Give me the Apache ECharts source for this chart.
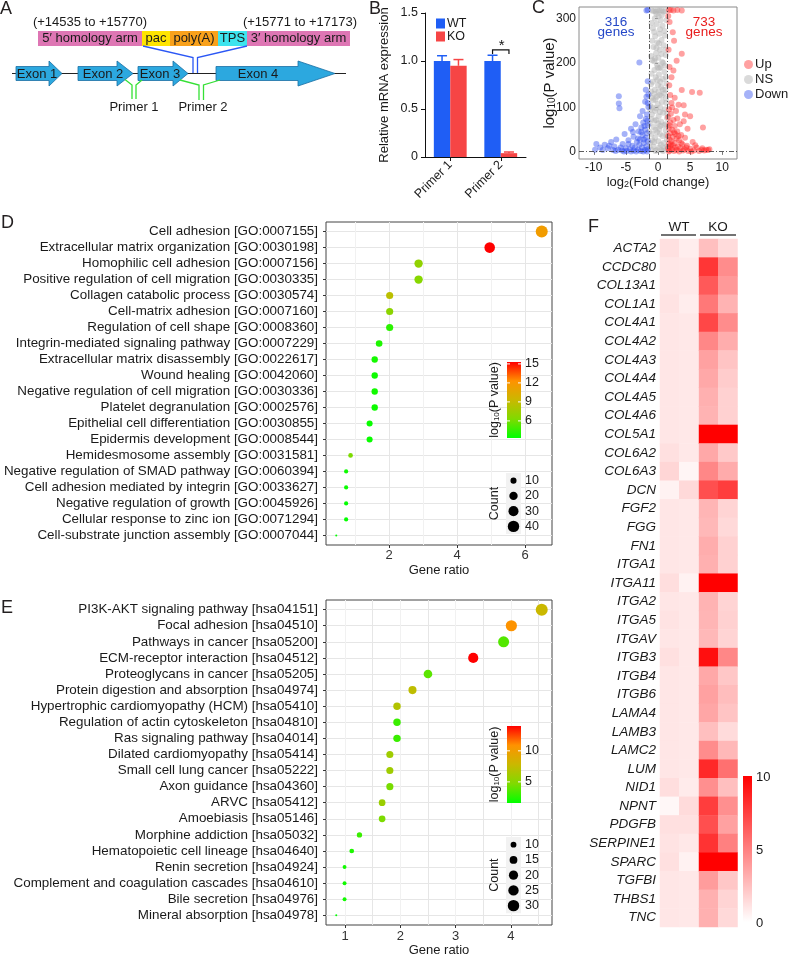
<!DOCTYPE html>
<html>
<head>
<meta charset="utf-8">
<title>Figure</title>
<script src="https://cdn.jsdelivr.net/npm/echarts@6.0.0/dist/echarts.min.js"></script>
<style>
html,body{margin:0;padding:0;background:#ffffff;}
#chart{width:789px;height:956px;}
</style>
</head>
<body>
<div id="chart"></div>
<script>
// ================= DATA =================
// Panel B
const barCategories = ['Primer 1', 'Primer 2'];
const wtExpression = [1.0, 1.0];
const koExpression = [0.95, 0.04];
const wtError = [0.055, 0.06];
const koError = [0.065, 0.012];
const sigBracketLevel = 1.115;
const barYTicks = [0, 0.5, 1.0, 1.5];

// Panel C
const volcanoXTicks = [-10, -5, 0, 5, 10];
const volcanoYTicks = [0, 100, 200, 300];
const downGeneCount = 316;
const upGeneCount = 733;
const fcCutoffs = [-1.4, 1.5];
const pCutoff = 1.3;
const volcanoNS = [[-0.05,318],[0.25,318],[-0.35,316],[0.55,318],[-0.65,317],[0.85,316],[-0.95,318],[1.15,317],[0.1,305],[-0.5,300],[0.4,296],[-0.2,288],[0.7,284],[-0.8,278],[1.0,272],[0.2,266],[-0.45,260],[0.55,252],[-0.1,246],[0.9,240],[-0.7,236],[0.3,230],[-0.3,222],[1.2,218],[0.05,212],[-0.9,206],[0.65,202],[-0.15,196],[0.4,190],[-0.55,184],[1.0,180],[0.15,174],[-0.35,168],[0.75,164],[-0.8,158],[1.3,154],[0.0,150],[0.5,146],[-0.5,140],[-1.1,136],[0.95,132],[0.25,128],[-0.2,124],[1.25,120],[-0.75,116],[0.6,112],[-0.05,108],[-1.2,104],[0.35,100],[1.1,96],[-0.45,92],[0.8,88],[-0.95,84],[0.1,80],[1.4,76],[-0.3,72],[0.5,68],[-1.3,64],[0.95,60],[-0.65,56],[0.2,52],[1.2,48],[-0.15,44],[-1.0,40],[0.7,36],[-0.45,32],[1.4,28],[0.05,24],[-1.25,20],[0.45,16],[-0.7,12],[1.05,8],[-0.2,4],[0.8,2],[-1.1,6],[1.35,12],[-0.9,26],[1.3,38],[-1.35,46],[1.2,62],[-1.05,74],[1.45,86],[-1.2,94],[1.3,110],[-1.0,122],[1.15,140],[-1.1,152],[1.25,168],[-1.0,176],[1.1,194],[-1.05,216],[1.2,230],[-0.9,250],[1.05,262],[-1.0,290],[1.3,296],[-0.25,310],[0.6,308],[0.3,276],[-0.6,270],[-0.25,234],[0.15,244],[0.55,220],[-0.6,204],[0.2,188],[-0.1,162],[0.35,158],[-0.6,130],[0.55,126],[-0.3,98],[0.3,90],[-0.55,70],[0.35,58],[-0.4,50],[0.05,64],[0.3,40],[-0.6,22],[0.2,10],[-0.4,2],[0.55,4],[0.9,20],[-0.85,100],[0.75,140],[-0.4,118],[0.1,136],[-0.05,190],[0.8,200],[-0.45,210]];
const volcanoUp = [[1.7,319],[2.0,319],[2.4,318],[3.0,319],[3.7,318],[1.6,306],[1.8,292],[2.3,269],[3.7,221],[1.8,191],[2.4,183],[2.1,168],[3.7,139],[5.3,135],[6.5,133],[1.9,128],[2.6,122],[3.2,106],[4.0,105],[2.2,100],[1.7,96],[2.8,92],[2.0,86],[4.2,84],[5.0,80],[7.0,55],[4.0,69],[3.0,75],[1.6,78],[2.4,72],[1.9,66],[3.4,62],[2.6,58],[1.7,54],[4.6,52],[2.2,50],[3.0,46],[1.9,42],[2.7,40],[3.6,38],[1.6,36],[2.3,34],[4.2,32],[2.9,30],[1.8,28],[3.3,26],[2.1,24],[5.4,22],[2.6,20],[1.7,18],[3.8,17],[2.3,15],[4.5,14],[1.9,12],[3.1,12],[2.7,10],[6.0,10],[1.6,8],[3.5,8],[5.0,7],[2.2,6],[4.1,6],[6.8,5],[7.5,5],[8.0,6],[2.9,4],[1.8,3],[3.9,3],[5.6,3],[6.4,2],[7.2,3],[2.5,2],[4.7,2],[3.3,1],[1.7,1],[5.2,1],[7.8,4],[6.9,8],[4.4,10],[3.6,20],[2.0,16],[5.8,15],[3.2,36],[2.5,44],[1.75,60],[2.1,110],[1.75,150],[1.65,230],[2.5,250],[2.9,205]];
const volcanoDown = [[-1.6,319],[-1.8,318],[-2.9,201],[-1.6,159],[-1.9,140],[-1.8,124],[-1.5,129],[-2.0,113],[-1.5,101],[-6.1,125],[-6.1,109],[-6.0,98],[-2.4,92],[-1.7,84],[-2.8,80],[-1.9,74],[-2.3,66],[-3.5,62],[-1.6,60],[-2.6,55],[-4.2,52],[-2.0,50],[-3.0,46],[-1.7,42],[-5.2,40],[-2.4,38],[-3.8,34],[-1.9,32],[-2.8,28],[-6.5,28],[-4.6,26],[-1.6,24],[-3.3,22],[-7.3,22],[-2.2,20],[-5.5,18],[-2.9,16],[-9.6,18],[-8.3,16],[-4.0,14],[-1.8,12],[-6.8,12],[-3.6,10],[-2.5,10],[-9.0,10],[-5.0,8],[-1.6,6],[-7.8,8],[-4.4,6],[-3.1,5],[-6.2,5],[-2.0,4],[-5.6,3],[-8.6,4],[-3.8,3],[-2.7,2],[-4.9,2],[-6.6,2],[-7.0,4],[-1.7,1],[-3.4,1],[-5.3,1],[-4.2,1],[-2.3,1],[-9.8,5],[-7.6,14],[-5.8,10],[-4.6,18],[-3.1,30],[-2.1,58],[-2.6,44],[-1.65,70],[-3.9,45],[-2.2,28],[-1.6,110]];

// Panel D (GO)
const goTerms = [
  'Cell adhesion [GO:0007155]',
  'Extracellular matrix organization [GO:0030198]',
  'Homophilic cell adhesion [GO:0007156]',
  'Positive regulation of cell migration [GO:0030335]',
  'Collagen catabolic process [GO:0030574]',
  'Cell-matrix adhesion [GO:0007160]',
  'Regulation of cell shape [GO:0008360]',
  'Integrin-mediated signaling pathway [GO:0007229]',
  'Extracellular matrix disassembly [GO:0022617]',
  'Wound healing [GO:0042060]',
  'Negative regulation of cell migration [GO:0030336]',
  'Platelet degranulation [GO:0002576]',
  'Epithelial cell differentiation [GO:0030855]',
  'Epidermis development [GO:0008544]',
  'Hemidesmosome assembly [GO:0031581]',
  'Negative regulation of SMAD pathway [GO:0060394]',
  'Cell adhesion mediated by integrin [GO:0033627]',
  'Negative regulation of growth [GO:0045926]',
  'Cellular response to zinc ion [GO:0071294]',
  'Cell-substrate junction assembly [GO:0007044]'
];
const goGeneRatio = [6.49,4.96,2.87,2.87,2.02,2.02,2.02,1.71,1.58,1.58,1.58,1.58,1.43,1.43,0.87,0.74,0.74,0.74,0.74,0.45];
const goLogP = [11.5,15.3,7.0,6.6,8.7,6.8,4.3,4.0,3.8,3.6,3.7,3.6,3.5,3.5,6.2,3.6,3.5,3.4,3.4,3.3];
const goCount = [45,34,20,20,14,14,14,12,11,11,11,11,10,10,6,5,5,5,5,3];
const goRatioTicks = [2, 4, 6];
const goRatioGrid = [1, 2, 3, 4, 5, 6];
const goPTicks = [6, 9, 12, 15];
const goCountKeys = [10, 20, 30, 40];

// Panel E (KEGG)
const keggTerms = [
  'PI3K-AKT signaling pathway [hsa04151]',
  'Focal adhesion [hsa04510]',
  'Pathways in cancer [hsa05200]',
  'ECM-receptor interaction [hsa04512]',
  'Proteoglycans in cancer [hsa05205]',
  'Protein digestion and absorption [hsa04974]',
  'Hypertrophic cardiomyopathy (HCM) [hsa05410]',
  'Regulation of actin cytoskeleton [hsa04810]',
  'Ras signaling pathway [hsa04014]',
  'Dilated cardiomyopathy [hsa05414]',
  'Small cell lung cancer [hsa05222]',
  'Axon guidance [hsa04360]',
  'ARVC [hsa05412]',
  'Amoebiasis [hsa05146]',
  'Morphine addiction [hsa05032]',
  'Hematopoietic cell lineage [hsa04640]',
  'Renin secretion [hsa04924]',
  'Complement and coagulation cascades [hsa04610]',
  'Bile secretion [hsa04976]',
  'Mineral absorption [hsa04978]'
];
const keggGeneRatio = [4.56,4.01,3.87,3.32,2.50,2.22,1.94,1.94,1.94,1.81,1.81,1.81,1.67,1.67,1.26,1.12,0.99,0.99,0.99,0.84];
const keggLogP = [7.8,10.8,3.6,14.0,3.8,7.3,6.8,3.0,3.0,6.0,6.0,4.5,5.8,4.6,3.0,2.3,2.0,2.0,2.0,1.6];
const keggCount = [33,29,28,24,18,16,14,14,14,13,13,13,12,12,9,8,7,7,7,6];
const keggRatioTicks = [1, 2, 3, 4];
const keggRatioGrid = [1, 1.5, 2, 2.5, 3, 3.5, 4, 4.5];
const keggPTicks = [5, 10];
const keggCountKeys = [10, 15, 20, 25, 30];

// Panel F (heatmap)
const heatGenes = ['ACTA2','CCDC80','COL13A1','COL1A1','COL4A1','COL4A2','COL4A3','COL4A4','COL4A5','COL4A6','COL5A1','COL6A2','COL6A3','DCN','FGF2','FGG','FN1','ITGA1','ITGA11','ITGA2','ITGA5','ITGAV','ITGB3','ITGB4','ITGB6','LAMA4','LAMB3','LAMC2','LUM','NID1','NPNT','PDGFB','SERPINE1','SPARC','TGFBI','THBS1','TNC'];
const heatWT1 = [1.2,1.0,1.0,1.1,1.0,1.0,1.0,1.0,1.0,1.0,1.0,1.2,1.6,0.5,1.0,1.0,1.0,1.0,1.3,1.0,1.1,1.0,1.2,1.0,1.0,1.0,1.0,1.0,1.0,1.3,0.3,1.2,1.1,1.2,1.0,1.0,1.0];
const heatWT2 = [0.7,0.9,0.9,0.7,0.9,0.9,0.9,0.9,0.9,0.9,0.9,0.9,0.4,1.5,0.9,0.9,0.9,0.9,0.5,0.9,0.9,0.9,0.9,0.9,0.9,0.9,0.9,0.9,0.9,0.8,1.4,1.2,0.9,0.5,0.9,0.9,0.9];
const heatKO1 = [2.5,7.9,6.5,5.3,7.2,4.7,3.7,3.4,3.1,3.0,10,3.4,4.7,6.9,2.9,2.8,3.2,3.1,10,3.0,2.9,2.8,9.4,3.4,3.7,3.5,2.5,4.5,8.4,4.4,7.6,6.9,8.0,10,3.9,3.1,3.1];
const heatKO2 = [1.4,4.5,4.0,3.0,4.5,3.2,2.3,2.0,1.8,1.8,10,2.1,3.3,7.6,1.7,1.5,1.8,1.8,10,1.7,1.8,1.7,4.7,2.2,2.6,2.3,1.4,2.8,5.6,2.5,4.4,3.7,5.0,10,2.2,1.7,1.5];
const heatTicks = [0, 5, 10];
const heatMax = 10;

// ================= STYLE =================
const FONT = '"Liberation Sans", Arial, Helvetica, sans-serif';
const INK = '#1a1a1a';
const WT_COLOR = '#1f5ef5';
const KO_COLOR = '#f64545';
const pvalPalette = ['#00ff00', '#80da00', '#cab800', '#ff9200', '#ff0000'];
const TERM_FONT = 13.4;

function txt(x, y, text, size, o) {
  o = o || {};
  const st = {text: text, fill: o.color || INK, fontSize: size, fontFamily: FONT,
    fontStyle: o.italic ? 'italic' : 'normal', align: o.align || 'center', verticalAlign: o.valign || 'middle'};
  if (o.rich) st.rich = o.rich;
  const el = {type: 'text', x: x, y: y, rotation: o.rot || 0, z: o.z || 60, silent: true, style: st};
  if (o.zlevel) el.zlevel = o.zlevel;
  return el;
}
function subRich(size, color) {
  return {
    n: {fontSize: size, fontFamily: FONT, fill: color, color: color, lineHeight: size},
    s: {fontSize: Math.round(size * 0.66), fontFamily: FONT, fill: color, color: color, lineHeight: size * 0.45, verticalAlign: 'bottom'}
  };
}
function sizeScale(counts) {
  const mn = Math.min.apply(null, counts), mx = Math.max.apply(null, counts);
  return c => 2.0 * (1 + 5 * Math.sqrt(Math.max(0, (c - mn) / (mx - mn))));
}
function expandRange(vals) {
  const mn = Math.min.apply(null, vals), mx = Math.max.apply(null, vals), d = (mx - mn) * 0.05;
  return [mn - d, mx + d];
}
const sizeGO = sizeScale(goCount);
const sizeKEGG = sizeScale(keggCount);
const goRange = expandRange(goGeneRatio);
const keggRange = expandRange(keggGeneRatio);
const goP = [Math.min.apply(null, goLogP), Math.max.apply(null, goLogP)];
const keggP = [Math.min.apply(null, keggLogP), Math.max.apply(null, keggLogP)];

// ================= GRAPHICS (schematic, legends, letters) =================
const G = [];
[['A', 0, 9.5], ['B', 369, 9], ['C', 532, 8.5], ['D', 1, 223.5], ['E', 1, 608.5], ['F', 588, 227.5]].forEach(l => {
  G.push(txt(l[1], l[2], l[0], 18, {align: 'left', color: '#231f20'}));
});

// Panel A schematic
G.push(txt(90, 22, '(+14535 to +15770)', 13));
G.push(txt(300, 22, '(+15771 to +17173)', 13));
[[38, 142, '#de76b4', '5\u2032 homology arm'], [142, 170, '#ffe400', 'pac'], [170, 218, '#f9a11b', 'poly(A)'],
 [218, 247, '#3de4ee', 'TPS'], [247, 350, '#de76b4', '3\u2032 homology arm']].forEach(b => {
  G.push({type: 'rect', silent: true, z: 50, shape: {x: b[0], y: 31, width: b[1] - b[0], height: 15}, style: {fill: b[2]}});
  G.push(txt((b[0] + b[1]) / 2, 38.7, b[3], 13));
});
G.push({type: 'polyline', silent: true, z: 50, shape: {points: [[12, 73.5], [346, 73.5]]}, style: {stroke: '#222', lineWidth: 1, fill: null}});
[[16, 49, 62, 'Exon 1', 37], [78, 117, 133, 'Exon 2', 103], [138, 173, 188, 'Exon 3', 160], [216, 298, 335, 'Exon 4', 258]].forEach(e => {
  G.push({type: 'polygon', silent: true, z: 51,
    shape: {points: [[e[0], 66.5], [e[1], 66.5], [e[1], 61], [e[2], 73.5], [e[1], 86], [e[1], 80.5], [e[0], 80.5]]},
    style: {fill: '#2ca8df', stroke: '#1b6fa3', lineWidth: 0.8}});
  G.push(txt(e[4], 74, e[3], 13));
});
G.push({type: 'polyline', silent: true, z: 52, shape: {points: [[143, 46], [193, 57.5], [193, 73]]}, style: {stroke: '#2b57f5', lineWidth: 1.3, fill: null}});
G.push({type: 'polyline', silent: true, z: 52, shape: {points: [[247, 46], [197.5, 57.5], [197.5, 73]]}, style: {stroke: '#2b57f5', lineWidth: 1.3, fill: null}});
[[[125, 79.5], [132, 85], [132, 99]], [[142, 80], [136, 85], [136, 99]], [[180, 80], [199, 85], [199, 100]], [[220, 80], [203.5, 85], [203.5, 100]]].forEach(p => {
  G.push({type: 'polyline', silent: true, z: 52, shape: {points: p}, style: {stroke: '#35e035', lineWidth: 1.3, fill: null}});
});
G.push(txt(134, 107.5, 'Primer 1', 13));
G.push(txt(203, 107.5, 'Primer 2', 13));

// Panel B axis title
G.push(txt(384, 85, 'Relative mRNA expression', 13, {rot: Math.PI / 2}));

// Panel C annotations
G.push(txt(616, 22, String(downGeneCount), 13.5, {color: '#2548c8'}));
G.push(txt(616, 32.5, 'genes', 13.5, {color: '#2548c8'}));
G.push(txt(704, 22, String(upGeneCount), 13.5, {color: '#e81c1c'}));
G.push(txt(704, 32.5, 'genes', 13.5, {color: '#e81c1c'}));

// Bubble legends (D & E)
function bubbleLegend(barTop, barBottom, pr, pTicks, keyTop, keys, sizeFn) {
  const bx = 507, bw = 14;
  const stops = pvalPalette.map((c, i) => ({offset: i / (pvalPalette.length - 1), color: c}));
  G.push({type: 'rect', silent: true, z: 55, shape: {x: bx, y: barTop, width: bw, height: barBottom - barTop},
    style: {fill: new echarts.graphic.LinearGradient(0, 1, 0, 0, stops)}});
  pTicks.forEach(v => {
    const y = barBottom - (v - pr[0]) / (pr[1] - pr[0]) * (barBottom - barTop);
    G.push({type: 'polyline', silent: true, z: 56, shape: {points: [[bx, y], [bx + 3, y]]}, style: {stroke: '#fff', lineWidth: 1, fill: null}});
    G.push({type: 'polyline', silent: true, z: 56, shape: {points: [[bx + bw - 3, y], [bx + bw, y]]}, style: {stroke: '#fff', lineWidth: 1, fill: null}});
    G.push(txt(525, y, String(v), 12.5, {align: 'left'}));
  });
  G.push(txt(495, (barTop + barBottom) / 2, '{n|log}{s|10}{n|(P value)}', 12.5, {rot: Math.PI / 2, rich: subRich(12.5, INK)}));
  const kh = 15.25;
  G.push({type: 'rect', silent: true, z: 55, shape: {x: 506, y: keyTop, width: 15, height: kh * keys.length}, style: {fill: '#f2f2f2'}});
  keys.forEach((k, i) => {
    const cy = keyTop + kh / 2 + i * kh;
    G.push({type: 'circle', silent: true, z: 56, shape: {cx: 513.5, cy: cy, r: sizeFn(k) / 2}, style: {fill: '#000'}});
    G.push(txt(525, cy, String(k), 12.5, {align: 'left'}));
  });
  G.push(txt(495, keyTop + kh * keys.length / 2, 'Count', 12.5, {rot: Math.PI / 2}));
}
bubbleLegend(362, 438, goP, goPTicks, 473, goCountKeys, sizeGO);
bubbleLegend(726, 803, keggP, keggPTicks, 837, keggCountKeys, sizeKEGG);

// Panel F header and colour bar
G.push(txt(679, 227, 'WT', 13.5));
G.push(txt(718, 227, 'KO', 13.5));
G.push({type: 'polyline', silent: true, z: 50, shape: {points: [[661, 235], [696, 235]]}, style: {stroke: '#444', lineWidth: 1.5, fill: null}});
G.push({type: 'polyline', silent: true, z: 50, shape: {points: [[700, 235], [736, 235]]}, style: {stroke: '#444', lineWidth: 1.5, fill: null}});
(function () {
  const top = 776, bottom = 922;
  G.push({type: 'rect', silent: true, z: 50, shape: {x: 743, y: top, width: 9, height: bottom - top},
    style: {fill: new echarts.graphic.LinearGradient(0, 1, 0, 0, [{offset: 0, color: '#ffffff'}, {offset: 1, color: '#ff0000'}])}});
  heatTicks.forEach(v => {
    const y = bottom - v / heatMax * (bottom - top);
    G.push(txt(756, y + 1.5, String(v), 13, {align: 'left'}));
  });
})();

// ================= OPTION =================
const goIdx = goTerms.map((t, i) => i);
const keggIdx = keggTerms.map((t, i) => i);
const gridBase = {containLabel: false, outerBoundsMode: 'none'};

function bubbleAxes(gridIndex, range, gridVals, tickVals, nameGap, labelMargin) {
  return [
    {type: 'value', gridIndex: gridIndex, position: 'top', min: range[0], max: range[1],
      axisLine: {show: false}, axisTick: {show: false, customValues: gridVals}, axisLabel: {show: false},
      splitLine: {show: true, lineStyle: {color: ['#f1f1f1', '#e6e6e6'], width: 1}}},
    {type: 'value', gridIndex: gridIndex, position: 'bottom', min: range[0], max: range[1],
      axisLine: {show: false}, axisTick: {show: true, customValues: tickVals, length: 3, lineStyle: {color: '#333'}},
      axisLabel: {customValues: tickVals, fontSize: 13, color: '#333', fontFamily: FONT, margin: labelMargin, showMinLabel: true, showMaxLabel: true},
      splitLine: {show: false},
      name: 'Gene ratio', nameLocation: 'middle', nameGap: nameGap, nameTextStyle: {fontSize: 13, color: INK, fontFamily: FONT}}
  ];
}
function bubbleYAxis(gridIndex, labels, idx) {
  return {type: 'value', gridIndex: gridIndex, inverse: true, min: -0.6, max: labels.length - 0.4,
    axisLine: {show: false},
    axisTick: {show: true, customValues: idx, length: 3, lineStyle: {color: '#333'}},
    axisLabel: {customValues: idx, formatter: v => labels[Math.round(v)] || '', fontSize: TERM_FONT, color: INK, fontFamily: FONT, margin: 8, showMinLabel: true, showMaxLabel: true},
    splitLine: {show: true, lineStyle: {color: '#e6e6e6', width: 1}}};
}

const option = {
  animation: false,
  backgroundColor: '#ffffff',
  textStyle: {fontFamily: FONT},
  grid: [
    Object.assign({left: 425, top: 13, width: 101, height: 144}, gridBase),
    Object.assign({left: 579, top: 7, width: 158, height: 152, show: true, borderColor: '#8a8a8a', borderWidth: 1, backgroundColor: '#fff'}, gridBase),
    Object.assign({left: 326, top: 222, width: 226, height: 323, show: true, borderColor: '#444', borderWidth: 1, backgroundColor: '#fff'}, gridBase),
    Object.assign({left: 326, top: 600, width: 226, height: 325, show: true, borderColor: '#444', borderWidth: 1, backgroundColor: '#fff'}, gridBase),
    Object.assign({left: 660, top: 239, width: 38.5, height: 688}, gridBase),
    Object.assign({left: 699, top: 239, width: 38.5, height: 688}, gridBase)
  ],
  legend: [
    {data: ['WT', 'KO'], orient: 'vertical', left: 431, top: 12, icon: 'rect', itemWidth: 9, itemHeight: 10, itemGap: 0,
      selectedMode: false, textStyle: {fontSize: 12.5, color: INK, fontFamily: FONT, padding: [0, 0, 0, -3]}},
    {data: ['Up', 'NS', 'Down'], orient: 'vertical', left: 739, top: 53, icon: 'circle', itemWidth: 9, itemHeight: 9, itemGap: 2,
      selectedMode: false, textStyle: {fontSize: 13, color: INK, fontFamily: FONT, padding: [0, 0, 0, -3]}}
  ],
  xAxis: [
    {type: 'category', gridIndex: 0, data: barCategories,
      axisLine: {show: true, lineStyle: {color: '#111', width: 1}},
      axisTick: {show: true, alignWithLabel: true, length: 4, lineStyle: {color: '#111'}},
      axisLabel: {rotate: 45, fontSize: 12.5, color: INK, fontFamily: FONT, margin: 6, interval: 0}},
    {type: 'value', gridIndex: 1, min: -12.3, max: 12.3,
      axisLine: {show: false}, splitLine: {show: false},
      axisTick: {show: true, customValues: volcanoXTicks, length: 3, lineStyle: {color: '#777'}},
      axisLabel: {customValues: volcanoXTicks, fontSize: 12, color: INK, fontFamily: FONT, margin: 3, showMinLabel: true, showMaxLabel: true},
      name: '{n|log}{s|2}{n|(Fold change)}', nameLocation: 'middle', nameGap: 17,
      nameTextStyle: {rich: subRich(13, INK)}},
    ...bubbleAxes(2, goRange, goRatioGrid, goRatioTicks, 18.5, 4),
    ...bubbleAxes(3, keggRange, keggRatioGrid, keggRatioTicks, 18.5, 5),
    {type: 'category', gridIndex: 4, data: ['WT-1', 'WT-2'], show: false},
    {type: 'category', gridIndex: 5, data: ['KO-1', 'KO-2'], show: false}
  ],
  yAxis: [
    {type: 'value', gridIndex: 0, min: 0, max: 1.5,
      axisLine: {show: true, lineStyle: {color: '#111', width: 1}},
      axisTick: {show: true, length: 4, customValues: barYTicks, lineStyle: {color: '#111'}},
      axisLabel: {show: false},
      splitLine: {show: false}},
    {type: 'value', gridIndex: 1, min: -16, max: 326,
      axisLine: {show: false}, splitLine: {show: false},
      axisTick: {show: true, customValues: volcanoYTicks, length: 3, lineStyle: {color: '#777'}},
      axisLabel: {customValues: volcanoYTicks, fontSize: 12, color: INK, fontFamily: FONT, margin: 3, showMinLabel: true, showMaxLabel: true},
      name: '{n|log}{s|10}{n|(P value)}', nameLocation: 'middle', nameGap: 22, nameMoveOverlap: false,
      nameTextStyle: {rich: subRich(15, INK)}},
    bubbleYAxis(2, goTerms, goIdx),
    bubbleYAxis(3, keggTerms, keggIdx),
    {type: 'category', gridIndex: 4, data: heatGenes, inverse: true,
      axisLine: {show: false}, axisTick: {show: false}, splitLine: {show: false},
      axisLabel: {fontSize: 13.5, fontStyle: 'italic', color: INK, fontFamily: FONT, margin: 4, interval: 0}},
    {type: 'category', gridIndex: 5, data: heatGenes, inverse: true, show: false}
  ],
  visualMap: [
    {type: 'continuous', show: false, seriesIndex: 7, dimension: 2, min: goP[0], max: goP[1], inRange: {color: pvalPalette}},
    {type: 'continuous', show: false, seriesIndex: 8, dimension: 2, min: keggP[0], max: keggP[1], inRange: {color: pvalPalette}},
    {type: 'continuous', show: false, seriesIndex: [9, 10], dimension: 2, min: 0, max: heatMax, inRange: {color: ['#ffffff', '#ff0000']}}
  ],
  series: [
    {name: 'WT', type: 'bar', xAxisIndex: 0, yAxisIndex: 0, data: wtExpression, barGap: '0%', barCategoryGap: '35%',
      itemStyle: {color: WT_COLOR}},
    {name: 'KO', type: 'bar', xAxisIndex: 0, yAxisIndex: 0, data: koExpression, barGap: '0%', barCategoryGap: '35%',
      itemStyle: {color: KO_COLOR}},
    {type: 'custom', xAxisIndex: 0, yAxisIndex: 0, z: 4,
      data: barCategories.map((c, i) => [i, wtExpression[i], wtError[i], -1]).concat(barCategories.map((c, i) => [i, koExpression[i], koError[i], 1])),
      renderItem: function (params, api) {
        const i = api.value(0), v = api.value(1), e = api.value(2), side = api.value(3);
        const p0 = api.coord([i, v]), p1 = api.coord([i, v + e]);
        const band = api.size([1, 0])[0];
        const x = p0[0] + side * band * 0.65 / 4;
        const col = side < 0 ? WT_COLOR : KO_COLOR;
        return {type: 'group', children: [
          {type: 'line', shape: {x1: x, y1: p0[1], x2: x, y2: p1[1]}, style: {stroke: col, lineWidth: 1.5}},
          {type: 'line', shape: {x1: x - 5, y1: p1[1], x2: x + 5, y2: p1[1]}, style: {stroke: col, lineWidth: 1.5}}
        ]};
      }},
    {type: 'custom', xAxisIndex: 0, yAxisIndex: 0, z: 4, data: [[1, sigBracketLevel]],
      renderItem: function (params, api) {
        const c = api.coord([api.value(0), api.value(1)]);
        const off = api.size([1, 0])[0] * 0.65 / 4;
        const xl = c[0] - off, xr = c[0] + off, y = c[1];
        return {type: 'group', children: [
          {type: 'polyline', shape: {points: [[xl, y + 4], [xl, y], [xr, y], [xr, y + 4]]}, style: {stroke: '#111', lineWidth: 1.2, fill: null}},
          {type: 'text', x: c[0] + 1, y: y + 3, style: {text: '*', fill: '#111', fontSize: 15, fontFamily: FONT, align: 'center', verticalAlign: 'bottom'}}
        ]};
      }},
    {name: 'Up', type: 'scatter', xAxisIndex: 1, yAxisIndex: 1, data: volcanoUp, symbolSize: 6,
      itemStyle: {color: '#ff2020', opacity: 0.42}, z: 3},
    {name: 'NS', type: 'scatter', xAxisIndex: 1, yAxisIndex: 1, data: volcanoNS, symbolSize: 6,
      itemStyle: {color: '#b5b5b5', opacity: 0.5}, z: 2,
      markLine: {silent: true, symbol: ['none', 'none'], label: {show: false},
        lineStyle: {color: '#333', width: 0.8, type: [5, 2, 1, 2]},
        data: [{xAxis: fcCutoffs[0]}, {xAxis: fcCutoffs[1]}, {yAxis: pCutoff}]}},
    {name: 'Down', type: 'scatter', xAxisIndex: 1, yAxisIndex: 1, data: volcanoDown, symbolSize: 6,
      itemStyle: {color: '#2848ee', opacity: 0.42}, z: 3},
    {type: 'scatter', xAxisIndex: 3, yAxisIndex: 2,
      data: goTerms.map((t, i) => [goGeneRatio[i], i, goLogP[i], goCount[i]]),
      symbolSize: v => sizeGO(v[3]), itemStyle: {opacity: 1}},
    {type: 'scatter', xAxisIndex: 5, yAxisIndex: 3,
      data: keggTerms.map((t, i) => [keggGeneRatio[i], i, keggLogP[i], keggCount[i]]),
      symbolSize: v => sizeKEGG(v[3]), itemStyle: {opacity: 1}},
    {type: 'heatmap', xAxisIndex: 6, yAxisIndex: 4,
      data: heatGenes.map((g, i) => [0, i, heatWT1[i]]).concat(heatGenes.map((g, i) => [1, i, heatWT2[i]])),
      itemStyle: {borderWidth: 0}, emphasis: {disabled: true}},
    {type: 'heatmap', xAxisIndex: 7, yAxisIndex: 5,
      data: heatGenes.map((g, i) => [0, i, heatKO1[i]]).concat(heatGenes.map((g, i) => [1, i, heatKO2[i]])),
      itemStyle: {borderWidth: 0}, emphasis: {disabled: true}}
  ],
  graphic: {elements: G}
};

const chart = echarts.init(document.getElementById('chart'), null, {renderer: 'canvas', width: 789, height: 956});
chart.setOption(option);

// Panel B y tick labels, positioned through the bar chart's own y scale (drawn on a top layer)
const barLabelEls = barYTicks.map(v => {
  const y = chart.convertToPixel({yAxisIndex: 0}, v);
  return txt(425 - 7, y, v === 0 ? '0' : v.toFixed(1), 12.5, {align: 'right', z: 200, zlevel: 1});
});
chart.setOption({graphic: {elements: G.concat(barLabelEls)}});
</script>
</body>
</html>
